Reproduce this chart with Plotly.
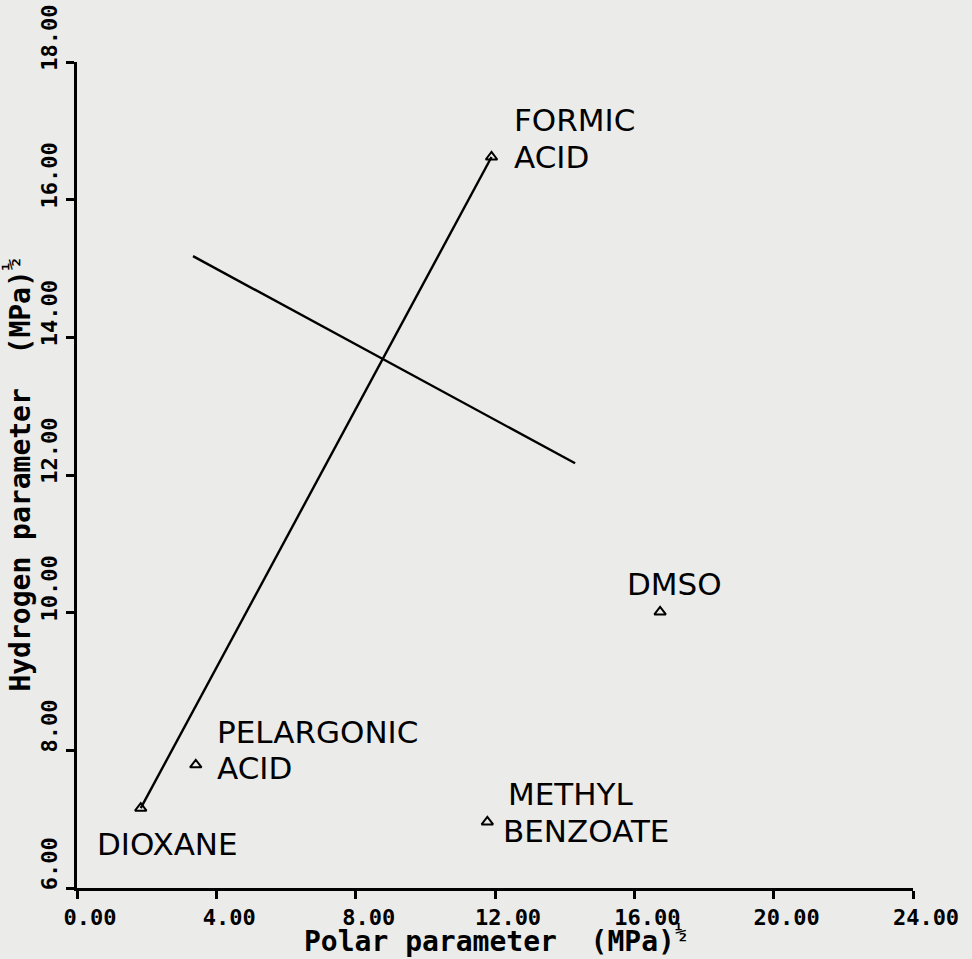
import plotly.graph_objects as go

# ---- data ----
solvent_lines = [["DIOXANE"], ["PELARGONIC", "ACID"], ["METHYL", "BENZOATE"],
                 ["DMSO"], ["FORMIC", "ACID"]]
polar_param = [1.83, 3.41, 11.78, 16.74, 11.90]
hydrogen_param = [7.16, 7.79, 6.96, 10.01, 16.62]

line1_x = [1.83, 11.90]
line1_y = [7.16, 16.62]
line2_x = [3.33, 14.30]
line2_y = [15.18, 12.17]

x_ticks = [0, 4, 8, 12, 16, 20, 24]
y_ticks = [6, 8, 10, 12, 14, 16, 18]

x_title = "Polar parameter  (MPa)<sup>½</sup>"
y_title = "Hydrogen parameter  (MPa)<sup>½</sup>"

# ---- label placement per text line (xshift, yshift) in px: style only ----
label_offsets = [
    [(-46, -36)],
    [(19, 33), (19, -3)],
    [(19, 28), (14, -9)],
    [(-35, 28)],
    [(20, 37), (20, 0)],
]

BG = "#ebebea"
mono = dict(family="DejaVu Sans Mono", color="black", weight="bold")

fig = go.Figure()
fig.add_trace(go.Scatter(x=line1_x, y=line1_y, mode="lines",
                         line=dict(color="black", width=2.4), hoverinfo="skip"))
fig.add_trace(go.Scatter(x=line2_x, y=line2_y, mode="lines",
                         line=dict(color="black", width=2.4), hoverinfo="skip"))
fig.add_trace(go.Scatter(x=polar_param, y=hydrogen_param, mode="markers",
                         marker=dict(symbol="triangle-up-open", size=10,
                                     color="black", line=dict(color="black", width=2))))

for lines, offs, xv, yv in zip(solvent_lines, label_offsets, polar_param, hydrogen_param):
    for txt, (dx, dy) in zip(lines, offs):
        fig.add_annotation(x=xv, y=yv, text=txt, showarrow=False, align="left",
                           xanchor="left", yanchor="middle", xshift=dx, yshift=dy,
                           font=dict(family="DejaVu Sans", size=31, color="black"))

# x-axis title (placed as paper annotation so it sits snugly under the ticks)
fig.add_annotation(x=0.5, y=0, xref="paper", yref="paper", text=x_title,
                   showarrow=False, xanchor="center", yanchor="middle", yshift=-51,
                   font=dict(size=28, **mono))

fig.update_layout(
    width=972, height=959,
    margin=dict(l=77, r=59, t=62, b=71),
    paper_bgcolor=BG, plot_bgcolor=BG,
    showlegend=False,
)
fig.update_xaxes(
    range=[0, 24], tickvals=x_ticks, tickformat=".2f",
    showgrid=False, zeroline=False, automargin=False,
    showline=True, linecolor="black", linewidth=3,
    ticks="outside", ticklen=8, tickwidth=2.5, tickcolor="black",
    tickfont=dict(size=22, **mono), ticklabelshift=13,
)
fig.update_yaxes(
    range=[6, 18], tickvals=y_ticks, tickformat=".2f",
    showgrid=False, zeroline=False, automargin=False,
    showline=True, linecolor="black", linewidth=3,
    ticks="outside", ticklen=8, tickwidth=2.5, tickcolor="black",
    tickfont=dict(size=22, **mono), tickangle=-90, ticklabelshift=-21,
    title=dict(text=y_title, font=dict(size=28, **mono), standoff=4),
)

fig.write_html("out.html", config={"displayModeBar": False},
               post_script="document.body.style.margin='0';document.body.style.overflow='hidden';")
